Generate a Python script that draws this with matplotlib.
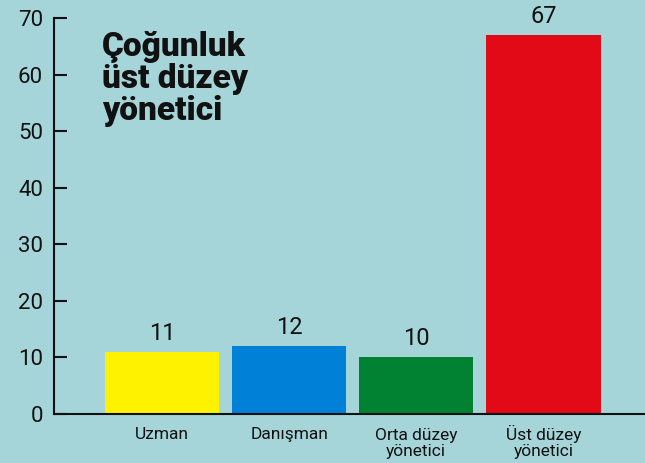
import matplotlib
matplotlib.use("Agg")
import matplotlib.pyplot as plt
from matplotlib.transforms import blended_transform_factory, offset_copy

categories = ["Uzman", "Danışman", "Orta düzey\nyönetici", "Üst düzey\nyönetici"]
values = [11, 12, 10, 67]
colors = ["#fff200", "#0080d6", "#008232", "#e30a17"]
yticks = [0, 10, 20, 30, 40, 50, 60, 70]
title = "Çoğunluk\nüst düzey\nyönetici"

bg = "#a6d5d9"
plt.rcParams['font.family'] = ['Roboto', 'DejaVu Sans']

fig = plt.figure(figsize=(6.45, 4.63), dpi=100, facecolor=bg)
ax = fig.add_axes([54/645, 1-414/463, 1-54/645, (414-18)/463])
ax.set_facecolor(bg)

x = list(range(len(categories)))
bars = ax.bar(x, values, width=0.9, color=colors)
for xi, v in zip(x, values):
    ax.annotate(str(v), (xi, v), xytext=(0, 5), textcoords="offset points",
                ha="center", va="bottom", fontsize=17, color="#111111")

ax.set_xlim(-0.85, 3.80)
ax.set_ylim(0, 70)
ax.set_yticks(yticks)
ax.set_yticklabels([str(t) for t in yticks], fontsize=16, color="#111111")
ax.set_xticks(x)
ax.set_xticklabels([])
ax.tick_params(axis='x', length=0)
ax.tick_params(axis='y', direction='in', length=9, width=1.5, pad=8, color="#111111")

# category labels: last-line baseline; first line baseline 25 px below the axis, 17 px per line
blend = blended_transform_factory(ax.transData, ax.transAxes)
for xi, lab in zip(x, categories):
    nlines = lab.count("\n") + 1
    off_px = 25 + 17 * (nlines - 1)
    trans = offset_copy(blend, fig=fig, x=0, y=-off_px * 72 / 100, units='points')
    ax.text(xi, 0, lab, transform=trans, ha="center", va="baseline",
            fontsize=12.5, color="#111111", linespacing=1.05, multialignment="center")

for s in ["top", "right"]:
    ax.spines[s].set_visible(False)
ax.spines["left"].set_linewidth(1.5)
ax.spines["bottom"].set_linewidth(1.5)
ax.spines["left"].set_color("#111111")
ax.spines["bottom"].set_color("#111111")

fig.text(102/645, 1-120/463, title, fontsize=24, fontweight='black', ha="left", va="baseline",
         color="#111111", linespacing=1.0)

fig.savefig("out.png", dpi=100, facecolor=bg)
